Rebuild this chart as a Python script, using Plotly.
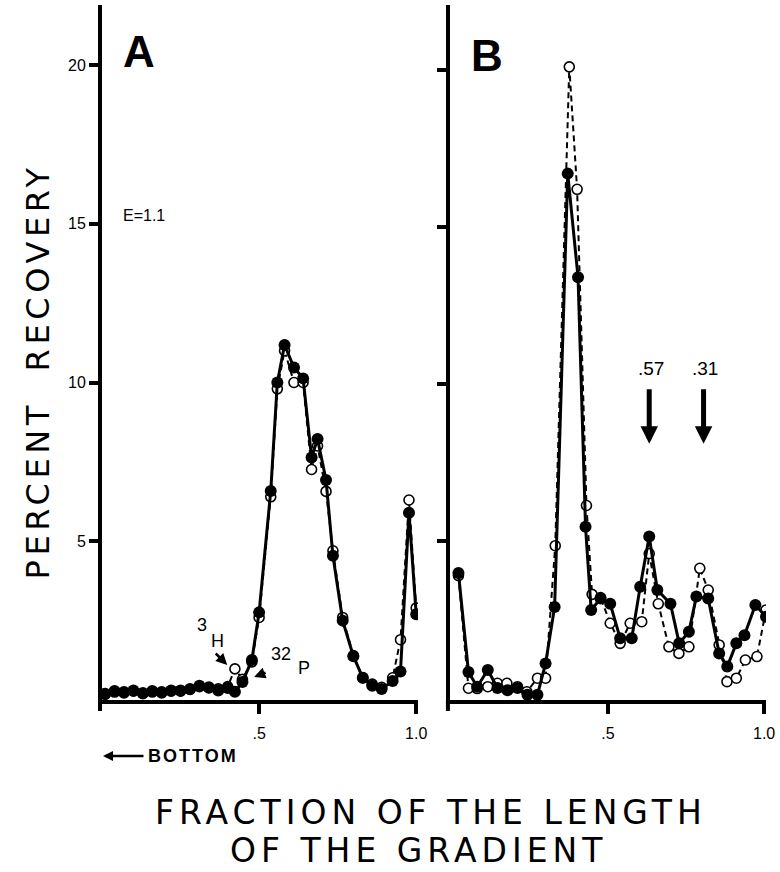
import plotly.graph_objects as go

# Panel A: fraction of gradient length vs percent recovery (E = 1.1)
frac_a = [0.01, 0.04, 0.07, 0.10, 0.13, 0.16, 0.19, 0.22, 0.25, 0.28, 0.31, 0.34,
          0.37, 0.40, 0.423, 0.447, 0.477, 0.50, 0.537, 0.558, 0.581, 0.611, 0.640,
          0.667, 0.686, 0.713, 0.735, 0.766, 0.80, 0.83, 0.86, 0.89, 0.925, 0.95,
          0.977, 1.0]
p32_a = [0.2, 0.28, 0.25, 0.3, 0.22, 0.28, 0.25, 0.3, 0.3, 0.35, 0.45, 0.4,
         0.3, 0.38, 0.26, 0.57, 1.26, 2.76, 6.58, 10.0, 11.18, 10.47, 10.13,
         7.64, 8.22, 6.93, 4.54, 2.5, 1.38, 0.7, 0.45, 0.35, 0.6, 0.9,
         5.9, 2.7]
h3_a = [0.18, 0.25, 0.22, 0.28, 0.2, 0.25, 0.22, 0.28, 0.28, 0.33, 0.42, 0.38,
        0.35, 0.42, 0.98, 0.65, 1.2, 2.6, 6.4, 9.8, 11.0, 10.0, 10.0,
        7.26, 8.0, 6.57, 4.7, 2.6, 1.4, 0.7, 0.5, 0.4, 0.7, 1.9,
        6.3, 2.9]

# Panel B
frac_b_p = [0.021, 0.053, 0.081, 0.115, 0.146, 0.178, 0.21, 0.242, 0.274, 0.30,
            0.329, 0.371, 0.404, 0.428, 0.446, 0.476, 0.507, 0.539, 0.576, 0.603,
            0.632, 0.658, 0.70, 0.728, 0.759, 0.783, 0.821, 0.856, 0.882, 0.911,
            0.937, 0.972, 1.006]
p32_b = [3.98, 0.83, 0.36, 0.89, 0.32, 0.25, 0.32, 0.1, 0.1, 1.1,
         2.9, 16.7, 13.4, 5.45, 2.8, 3.17, 3.0, 1.9, 1.9, 3.54,
         5.14, 3.44, 3.0, 1.74, 2.11, 3.23, 3.17, 1.42, 1.0, 1.74,
         2.0, 2.96, 2.59]
frac_b_h = [0.021, 0.053, 0.081, 0.115, 0.146, 0.176, 0.21, 0.24, 0.274, 0.30,
            0.331, 0.376, 0.401, 0.431, 0.449, 0.476, 0.507, 0.539, 0.571, 0.608,
            0.632, 0.661, 0.695, 0.727, 0.759, 0.794, 0.821, 0.856, 0.881, 0.911,
            0.94, 0.977, 1.006]
h3_b = [3.9, 0.31, 0.3, 0.36, 0.47, 0.47, 0.36, 0.2, 0.63, 0.63,
        4.85, 20.1, 16.2, 6.13, 3.3, 3.2, 2.38, 1.74, 2.38, 2.43,
        4.6, 3.0, 1.63, 1.42, 1.63, 4.13, 3.44, 1.69, 0.52, 0.63,
        1.21, 1.32, 2.8]

# Marker positions (fraction) indicated by arrows in panel B
marker_pos = [0.632, 0.806]
marker_lbl = [".57", ".31"]

y_ticks = [5, 10, 15, 20]
y_ticktext = ["5", "10", "15", "20"]
x_ticks = [0.5, 1.0]
x_ticktext = [".5", "1.0"]

W, H = 780, 872
ML, MR, MT, MB = 102, 10, 5, 172
PW, PH = W - ML - MR, H - MT - MB


def px(x):
    return (x - ML) / PW


def py(y):
    return (H - MB - y) / PH


FONT = "Liberation Sans"
TITLE_FONT = "DejaVu Sans"
ink = "black"

fig = go.Figure()

open_marker = dict(symbol="circle", size=10, color="white", line=dict(color=ink, width=1.6))
fill_marker = dict(symbol="circle", size=12, color=ink)

fig.add_trace(go.Scatter(x=frac_a, y=h3_a, mode="lines+markers", name="3H",
                         line=dict(color=ink, width=2, dash="6px,4px"),
                         marker=open_marker, xaxis="x", yaxis="y"))
fig.add_trace(go.Scatter(x=frac_a, y=p32_a, mode="lines+markers", name="32P",
                         line=dict(color=ink, width=3),
                         marker=fill_marker, xaxis="x", yaxis="y"))
fig.add_trace(go.Scatter(x=frac_b_h, y=h3_b, mode="lines+markers", name="3H",
                         line=dict(color=ink, width=2, dash="6px,4px"),
                         marker=open_marker, xaxis="x2", yaxis="y2"))
fig.add_trace(go.Scatter(x=frac_b_p, y=p32_b, mode="lines+markers", name="32P",
                         line=dict(color=ink, width=3),
                         marker=fill_marker, xaxis="x2", yaxis="y2"))

axis_common = dict(showline=True, linewidth=4, linecolor=ink, ticks="outside",
                   tickwidth=4, tickcolor=ink, showgrid=False, zeroline=False,
                   tickfont=dict(family=FONT, size=16, color=ink))

fig.update_layout(
    width=W, height=H, showlegend=False,
    paper_bgcolor="white", plot_bgcolor="white",
    margin=dict(l=ML, r=MR, t=MT, b=MB),
    xaxis=dict(domain=[0, 318 / PW], range=[0, 1.006], tickvals=x_ticks,
               ticktext=x_ticktext, ticklen=10, ticklabelstandoff=6, anchor="y",
               **axis_common),
    yaxis=dict(domain=[0, 1], range=[0, 21.89], tickvals=y_ticks,
               ticktext=y_ticktext, ticklen=9, anchor="x", **axis_common),
    xaxis2=dict(domain=[350 / PW, 1], range=[-0.0064, 1.006], tickvals=x_ticks,
                ticktext=x_ticktext, ticklen=10, ticklabelstandoff=6, anchor="y2",
                **axis_common),
    yaxis2=dict(domain=[0, 1], range=[-0.064, 22.07], tickvals=y_ticks,
                showticklabels=False, ticklen=9, anchor="x2", **axis_common),
)

ann = []


def text(x, y, s, size, bold=False, family=FONT, **kw):
    ann.append(dict(x=px(x), y=py(y), xref="paper", yref="paper", text=s,
                    xanchor="center", yanchor="middle", showarrow=False,
                    font=dict(family=family, size=size, color=ink,
                              weight="bold" if bold else "normal"),
                    **kw))


def spaced(s, ls):
    return f"<span style='letter-spacing:{ls}px'>{s}</span>"


text(139, 51, "A", 44, bold=True)
text(489, 55, "B", 44, bold=True)
text(144, 215, "E=1.1", 16)
text(38, 371, spaced("PERCENT  RECOVERY", 4.6), 32, family=TITLE_FONT, textangle=-90)
text(433, 812, spaced("FRACTION OF THE LENGTH", 5), 33, family=TITLE_FONT)
text(420, 851, spaced("OF THE GRADIENT", 5), 33, family=TITLE_FONT)
text(194, 756, spaced("BOTTOM", 2), 18, bold=True)
text(203, 625, "3", 18)
text(218, 641, "H", 18)
text(282, 654, "32", 18)
text(305, 668, "P", 18)

# small pointer arrows beside the 3H / 32P labels
ann.append(dict(x=px(228), y=py(665), xref="paper", yref="paper", ax=-13, ay=-13,
                axref="pixel", ayref="pixel", text="", showarrow=True, arrowhead=2,
                arrowsize=0.9, arrowwidth=2.5, arrowcolor=ink))
ann.append(dict(x=px(255), y=py(677), xref="paper", yref="paper", ax=13, ay=-5,
                axref="pixel", ayref="pixel", text="", showarrow=True, arrowhead=2,
                arrowsize=0.9, arrowwidth=2.5, arrowcolor=ink))
# bottom-of-gradient arrow
ann.append(dict(x=px(103), y=py(756), xref="paper", yref="paper", ax=42, ay=0,
                axref="pixel", ayref="pixel", text="", showarrow=True, arrowhead=2,
                arrowsize=0.8, arrowwidth=2.5, arrowcolor=ink))

# marker arrows in panel B
for xm, lbl in zip(marker_pos, marker_lbl):
    ann.append(dict(x=xm, y=8.1, xref="x2", yref="y2", ax=0, ay=-56,
                    axref="pixel", ayref="pixel", text="", showarrow=True,
                    arrowhead=2, arrowsize=0.7, arrowwidth=5, arrowcolor=ink))
    ann.append(dict(x=xm + 0.005, y=10.5, xref="x2", yref="y2", text=lbl,
                    showarrow=False, xanchor="center", yanchor="middle",
                    font=dict(family=FONT, size=19, color=ink)))

fig.update_layout(annotations=ann)

# y-axis lines run a little past the x-axis
shapes = []
for xp in [102, 452]:
    shapes.append(dict(type="line", xref="paper", yref="paper", x0=px(xp - 2), x1=px(xp - 2),
                       y0=py(700), y1=py(711), line=dict(color=ink, width=4)))
fig.update_layout(shapes=shapes)

fig.write_html("out.html")
